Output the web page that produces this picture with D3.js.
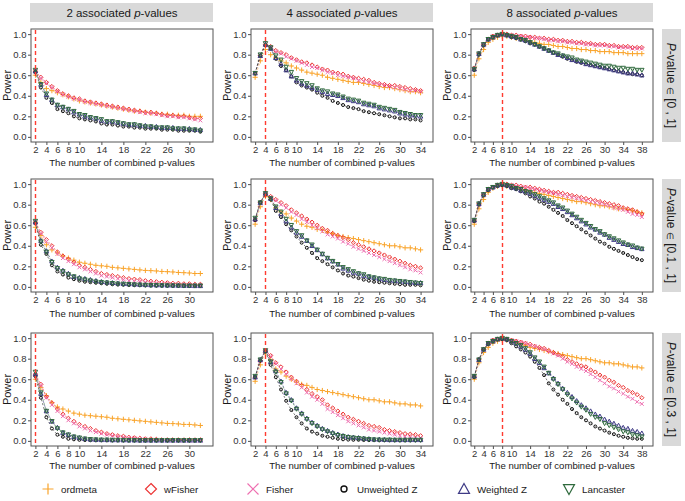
<!DOCTYPE html>
<html>
<head>
<meta charset="utf-8">
<script src="https://cdn.jsdelivr.net/npm/d3@7"></script>
<style>
  body { margin: 0; background: #fff; }
  text { font-family: "Liberation Sans", Arial, sans-serif; }
</style>
</head>
<body>
<div id="chart"></div>
<script>
// columns: number of associated p-values, rows: p-value range
const assoc = [2, 4, 8];
const ranges = ["[0 , 1]", "[0.1 , 1]", "[0.3 , 1]"];
const xMax = [32, 34, 38];
const xTicks = [
    [2, 4, 6, 8, 10, 14, 18, 22, 26, 30],
    [2, 4, 6, 8, 10, 14, 18, 22, 26, 30, 34],
    [2, 4, 6, 8, 10, 14, 18, 22, 26, 30, 34, 38]
];
const yTicks = [0, 0.2, 0.4, 0.6, 0.8, 1.0];
const methods = ["ordmeta", "wFisher", "Fisher", "Unweighted Z", "Weighted Z", "Lancaster"];

// power values, one array per panel (row by row), starting at x = 2
const ordmeta = [
    [.60,.53,.47,.45,.43,.41,.39,.37,.35,.34,.33,.32,.31,.30,.29,.28,.27,.26,.25,.25,.24,.23,.23,.22,.22,.21,.21,.21,.20,.20,.20],
    [.58,.74,.85,.80,.77,.74,.72,.69,.67,.65,.63,.62,.61,.60,.58,.57,.56,.55,.54,.53,.53,.52,.51,.50,.49,.48,.48,.47,.46,.45,.44,.44,.43],
    [.60,.76,.85,.92,.95,.97,.98,.98,.97,.96,.95,.94,.93,.92,.91,.90,.90,.89,.88,.88,.87,.86,.86,.85,.85,.84,.84,.83,.83,.83,.82,.82,.82,.81,.81,.81,.81],
    [.58,.50,.41,.36,.33,.30,.28,.26,.24,.23,.22,.21,.205,.20,.19,.185,.18,.175,.17,.165,.16,.158,.155,.15,.148,.145,.14,.138,.135,.13,.13],
    [.61,.78,.88,.85,.77,.73,.71,.67,.64,.61,.59,.58,.56,.55,.53,.52,.50,.49,.48,.47,.46,.45,.44,.43,.42,.41,.40,.40,.39,.38,.38,.37,.36],
    [.61,.76,.85,.92,.96,.98,.98,.98,.97,.96,.95,.94,.93,.92,.91,.90,.89,.88,.87,.86,.85,.84,.83,.83,.82,.81,.80,.79,.79,.78,.77,.76,.76,.75,.74,.73,.72],
    [.60,.52,.44,.37,.33,.31,.29,.27,.26,.25,.245,.24,.235,.23,.22,.215,.21,.205,.20,.195,.19,.185,.18,.175,.17,.168,.165,.16,.16,.155,.15],
    [.58,.74,.86,.79,.70,.67,.63,.60,.57,.55,.54,.52,.50,.49,.48,.47,.46,.45,.44,.43,.42,.41,.40,.40,.39,.38,.38,.37,.36,.36,.35,.35,.34],
    [.60,.76,.86,.91,.95,.97,.98,.98,.97,.96,.94,.93,.91,.90,.89,.88,.87,.86,.85,.84,.83,.82,.81,.80,.80,.79,.78,.77,.76,.76,.75,.75,.74,.73,.72,.72,.71]
];
const wFisher = [
    [.64,.58,.53,.49,.45,.42,.40,.38,.37,.35,.34,.33,.32,.31,.30,.29,.28,.27,.26,.25,.24,.24,.23,.22,.21,.21,.20,.20,.19,.18,.18],
    [.62,.79,.90,.88,.84,.82,.80,.77,.75,.73,.72,.70,.68,.66,.65,.63,.62,.61,.59,.58,.57,.56,.55,.53,.52,.51,.50,.50,.49,.48,.47,.46,.45],
    [.67,.81,.90,.95,.98,.99,1.00,1.00,.99,.99,.98,.98,.97,.97,.96,.96,.95,.95,.94,.94,.93,.93,.92,.92,.91,.91,.90,.90,.90,.89,.89,.88,.88,.88,.87,.87,.87],
    [.63,.53,.46,.40,.34,.30,.27,.24,.21,.19,.17,.15,.13,.12,.11,.10,.09,.08,.075,.07,.06,.055,.05,.045,.04,.035,.035,.03,.03,.025,.025],
    [.66,.82,.91,.88,.85,.82,.79,.75,.72,.69,.66,.63,.60,.57,.55,.52,.50,.48,.46,.43,.41,.39,.37,.35,.33,.31,.29,.27,.25,.23,.21,.20,.185],
    [.65,.81,.90,.95,.97,.99,1.00,1.00,.99,.99,.98,.97,.97,.96,.95,.94,.93,.92,.92,.91,.90,.89,.88,.87,.86,.85,.84,.83,.82,.81,.80,.79,.77,.76,.75,.73,.71],
    [.65,.55,.43,.37,.31,.26,.22,.19,.16,.14,.12,.10,.085,.07,.06,.05,.045,.035,.03,.025,.02,.02,.015,.01,.01,.01,.01,.01,.01,.01,.01],
    [.62,.78,.88,.83,.76,.72,.67,.62,.58,.54,.50,.46,.43,.40,.35,.32,.29,.26,.23,.21,.19,.17,.15,.14,.13,.11,.10,.09,.08,.07,.065,.06,.05],
    [.63,.79,.89,.95,.98,.99,1.00,.99,.98,.97,.96,.95,.94,.92,.91,.90,.88,.86,.84,.82,.79,.77,.75,.73,.72,.69,.67,.64,.62,.59,.57,.54,.52,.49,.47,.45,.42]
];
const fisher = [
    [.64,.57,.52,.48,.44,.41,.39,.37,.36,.34,.33,.32,.31,.30,.29,.28,.27,.26,.25,.24,.23,.23,.22,.21,.20,.20,.19,.19,.18,.17,.16],
    [.62,.79,.90,.87,.83,.81,.78,.76,.74,.72,.70,.68,.67,.65,.63,.62,.60,.59,.58,.57,.55,.54,.53,.52,.51,.50,.49,.48,.47,.46,.45,.45,.44],
    [.66,.81,.90,.95,.98,.99,1.00,.99,.99,.98,.98,.97,.97,.96,.96,.95,.94,.94,.93,.93,.92,.92,.91,.91,.90,.90,.89,.89,.89,.88,.88,.87,.87,.87,.86,.86,.86],
    [.63,.52,.44,.38,.32,.28,.25,.22,.19,.17,.15,.13,.11,.10,.09,.08,.07,.06,.055,.05,.045,.04,.035,.03,.03,.025,.02,.02,.02,.015,.015],
    [.65,.81,.91,.87,.84,.80,.77,.73,.70,.66,.63,.60,.57,.54,.51,.49,.47,.44,.42,.39,.37,.35,.33,.31,.29,.27,.25,.23,.21,.19,.17,.16,.14],
    [.64,.80,.90,.95,.97,.99,1.00,.99,.99,.98,.97,.97,.96,.95,.94,.93,.92,.91,.90,.89,.88,.87,.86,.85,.84,.83,.82,.81,.80,.79,.77,.76,.75,.73,.71,.70,.68],
    [.64,.54,.42,.35,.29,.24,.20,.17,.14,.12,.10,.085,.07,.06,.05,.04,.035,.03,.025,.02,.015,.01,.01,.01,.005,.005,.005,.005,.005,.005,.005],
    [.62,.78,.88,.82,.75,.70,.65,.60,.56,.52,.47,.43,.40,.36,.31,.28,.25,.22,.19,.17,.15,.13,.11,.10,.09,.08,.07,.06,.05,.04,.035,.03,.025],
    [.63,.79,.89,.95,.98,.99,1.00,.99,.98,.97,.96,.95,.93,.92,.90,.89,.87,.85,.83,.80,.77,.75,.72,.70,.68,.65,.62,.59,.56,.53,.51,.48,.46,.43,.41,.38,.36]
];
const unweightedZ = [
    [.63,.48,.38,.33,.27,.25,.23,.20,.18,.17,.16,.15,.13,.12,.12,.11,.10,.10,.09,.09,.08,.08,.08,.07,.07,.07,.06,.06,.06,.06,.05],
    [.62,.79,.89,.86,.76,.69,.65,.59,.53,.50,.48,.46,.43,.40,.38,.35,.33,.31,.29,.28,.27,.25,.24,.23,.22,.21,.20,.19,.18,.18,.17,.17,.16],
    [.65,.80,.89,.95,.97,.99,1.00,.99,.97,.96,.95,.93,.91,.90,.88,.86,.84,.82,.80,.78,.76,.75,.73,.72,.71,.70,.69,.68,.67,.66,.65,.64,.63,.62,.61,.61,.60],
    [.62,.41,.32,.21,.15,.12,.09,.075,.06,.05,.045,.04,.035,.03,.025,.022,.02,.018,.016,.015,.014,.013,.012,.011,.01,.01,.01,.01,.01,.01,.01],
    [.65,.82,.90,.85,.74,.68,.61,.55,.49,.43,.38,.33,.28,.25,.22,.19,.16,.13,.11,.10,.085,.07,.06,.05,.045,.04,.035,.03,.025,.02,.02,.02,.015],
    [.64,.80,.89,.94,.97,.98,.99,.98,.96,.95,.93,.91,.88,.86,.83,.81,.78,.75,.72,.69,.65,.62,.59,.56,.53,.50,.47,.44,.42,.39,.37,.35,.33,.31,.29,.27,.26],
    [.63,.42,.23,.12,.06,.04,.02,.015,.01,.008,.006,.005,.005,.005,.005,.005,.005,.005,.005,.005,.005,.005,.005,.005,.005,.005,.005,.005,.005,.005,.005],
    [.62,.78,.87,.74,.62,.50,.39,.30,.23,.17,.12,.09,.07,.05,.04,.03,.02,.015,.012,.01,.01,.008,.007,.006,.005,.005,.005,.005,.005,.005,.005,.005,.005],
    [.62,.79,.89,.94,.97,.99,.99,.98,.95,.92,.89,.86,.82,.77,.71,.64,.56,.50,.45,.40,.36,.31,.27,.23,.20,.17,.14,.12,.10,.08,.065,.05,.04,.03,.025,.02,.02]
];
const weightedZ = [
    [.64,.51,.41,.36,.31,.29,.27,.24,.22,.20,.19,.18,.16,.15,.15,.14,.13,.12,.12,.11,.11,.10,.10,.09,.09,.09,.08,.08,.08,.07,.07],
    [.62,.79,.90,.86,.77,.71,.65,.59,.55,.52,.50,.48,.46,.44,.42,.41,.40,.38,.36,.35,.34,.32,.31,.30,.28,.27,.26,.25,.23,.22,.21,.21,.20],
    [.66,.81,.90,.95,.97,.99,1.00,.99,.98,.97,.95,.94,.92,.90,.88,.86,.84,.82,.80,.79,.77,.75,.74,.73,.71,.70,.69,.68,.67,.66,.65,.64,.63,.62,.62,.61,.60],
    [.63,.45,.35,.25,.19,.16,.13,.10,.09,.08,.07,.06,.05,.045,.04,.035,.03,.028,.025,.022,.02,.018,.017,.016,.015,.014,.013,.012,.011,.01,.01],
    [.66,.82,.91,.86,.77,.71,.64,.58,.53,.49,.45,.40,.36,.32,.28,.25,.22,.18,.16,.14,.13,.11,.10,.09,.08,.07,.065,.06,.055,.05,.045,.04,.04],
    [.65,.81,.90,.95,.97,.99,1.00,.99,.97,.96,.94,.93,.91,.89,.87,.85,.83,.81,.78,.76,.73,.70,.67,.64,.61,.58,.56,.53,.51,.48,.46,.44,.42,.41,.39,.38,.37],
    [.65,.46,.29,.19,.13,.08,.06,.04,.03,.02,.015,.012,.01,.01,.008,.008,.007,.006,.006,.005,.005,.005,.005,.005,.005,.005,.005,.005,.005,.005,.005],
    [.62,.79,.88,.77,.68,.58,.47,.40,.32,.27,.22,.18,.15,.12,.10,.08,.065,.05,.04,.035,.03,.025,.02,.015,.015,.012,.01,.01,.01,.01,.01,.01,.01],
    [.63,.79,.89,.95,.97,.99,1.00,.99,.97,.95,.92,.89,.85,.80,.76,.71,.66,.61,.56,.51,.47,.43,.39,.35,.32,.29,.26,.24,.21,.19,.17,.15,.13,.12,.10,.09,.075]
];
const lancaster = [
    [.65,.51,.42,.36,.31,.29,.27,.25,.22,.21,.19,.18,.17,.15,.15,.14,.13,.12,.12,.11,.10,.10,.09,.09,.09,.08,.08,.08,.07,.07,.06],
    [.62,.80,.91,.87,.79,.75,.68,.63,.57,.54,.52,.50,.47,.45,.44,.42,.41,.39,.37,.36,.35,.33,.32,.31,.29,.28,.27,.26,.24,.23,.22,.21,.21],
    [.66,.81,.90,.95,.97,.99,1.00,.99,.98,.97,.95,.94,.92,.90,.88,.86,.84,.82,.81,.79,.78,.77,.75,.74,.73,.72,.71,.70,.69,.69,.68,.67,.67,.66,.66,.65,.65],
    [.64,.44,.34,.24,.18,.15,.12,.10,.08,.07,.06,.05,.045,.04,.035,.03,.028,.025,.022,.02,.018,.016,.015,.014,.013,.012,.011,.01,.01,.01,.01],
    [.67,.82,.91,.86,.78,.73,.66,.60,.54,.50,.45,.41,.36,.32,.28,.25,.22,.19,.17,.15,.13,.12,.10,.09,.08,.075,.065,.06,.055,.05,.045,.04,.035],
    [.65,.81,.90,.95,.97,.99,1.00,.99,.98,.96,.95,.93,.92,.90,.88,.86,.84,.82,.79,.77,.74,.71,.68,.65,.62,.59,.56,.54,.51,.49,.47,.45,.43,.41,.40,.38,.37],
    [.67,.47,.29,.19,.12,.08,.06,.04,.03,.02,.015,.012,.01,.01,.008,.008,.007,.006,.006,.005,.005,.005,.005,.005,.005,.005,.005,.005,.005,.005,.005],
    [.63,.79,.88,.77,.67,.57,.46,.39,.31,.26,.21,.17,.14,.11,.09,.07,.055,.045,.035,.03,.025,.02,.015,.012,.01,.01,.01,.008,.008,.008,.008,.008,.008],
    [.63,.79,.89,.95,.97,.99,1.00,.99,.97,.95,.93,.90,.86,.81,.77,.72,.66,.60,.55,.50,.45,.41,.37,.33,.30,.26,.23,.21,.17,.15,.13,.11,.09,.08,.06,.05,.04]
];
const seriesData = [ordmeta, wFisher, fisher, unweightedZ, weightedZ, lancaster];

const colors = ["#F9A42B", "#EC3434", "#EE6FB0", "#111111", "#3E3A85", "#2F6A3D"];
const shapes = ["plus", "diamond", "cross", "circle", "triangle", "triangleDown"];
const refLineColor = "#FF3B30";

// layout
const W = 685, H = 501;
const colX = [31, 251, 471];
const rowY = [29, 179, 333];
const pw = 182, ph = 113;
const xDomains = [[1.2, 34.3], [1.2, 36.4], [1.3, 40.4]];
const titleY = [166, 317, 469];

const svg = d3.select("#chart").append("svg")
    .attr("width", W)
    .attr("height", H);

// marker path for a given shape and size (half width)
function markerPath(shape, s) {
    switch (shape) {
        case "plus":
            return `M${-s},0H${s}M0,${-s}V${s}`;
        case "cross":
            return `M${-s},${-s}L${s},${s}M${-s},${s}L${s},${-s}`;
        case "diamond":
            return `M0,${-s}L${s},0L0,${s}L${-s},0Z`;
        case "circle":
            return `M${s},0A${s},${s} 0 1,1 ${-s},0A${s},${s} 0 1,1 ${s},0Z`;
        case "triangle":
            return `M0,${-s}L${s},${s * 0.8}L${-s},${s * 0.8}Z`;
        case "triangleDown":
            return `M0,${s}L${s},${-s * 0.8}L${-s},${-s * 0.8}Z`;
    }
}
const markerSize = [2.6, 2.1, 1.9, 1.5, 2.2, 2.2];

// top strips
assoc.forEach(function (a, c) {
    const g = svg.append("g");
    g.append("rect")
        .attr("x", colX[c] - 1).attr("y", 3)
        .attr("width", pw + 1).attr("height", 19)
        .attr("fill", "#d9d9d9");
    const t = g.append("text")
        .attr("x", colX[c] + pw / 2).attr("y", 16.5)
        .attr("text-anchor", "middle")
        .attr("font-size", 11.5)
        .attr("fill", "#1a1a1a");
    t.append("tspan").text(a + " associated ");
    t.append("tspan").attr("font-style", "italic").text("p");
    t.append("tspan").text("-values");
});

ranges.forEach(function (rng, r) {
    // right strip
    const sg = svg.append("g");
    sg.append("rect")
        .attr("x", 662).attr("y", rowY[r])
        .attr("width", 19).attr("height", ph)
        .attr("fill", "#d9d9d9");
    const st = sg.append("text")
        .attr("transform", "translate(667," + (rowY[r] + ph / 2) + ") rotate(90)")
        .attr("text-anchor", "middle")
        .attr("font-size", 12)
        .attr("fill", "#1a1a1a");
    st.append("tspan").attr("font-style", "italic").text("P");
    st.append("tspan").text("-value ");
    st.append("tspan").attr("font-size", 9).text("\u2208");
    st.append("tspan").text(" " + rng);

    assoc.forEach(function (a, c) {
        const idx = r * 3 + c;
        const x = d3.scaleLinear().domain(xDomains[c]).range([0, pw]);
        const y = d3.scaleLinear().domain([-0.05, 1.05]).range([ph, 0]);
        const xs = d3.range(2, xMax[c] + 1);

        const g = svg.append("g")
            .attr("transform", "translate(" + colX[c] + "," + rowY[r] + ")");

        // axes
        const xAxis = d3.axisBottom(x).tickValues(xTicks[c]).tickSize(3).tickPadding(1.5).tickFormat(d3.format("d"));
        const yAxis = d3.axisLeft(y).tickValues(yTicks).tickSize(3).tickPadding(1.5).tickFormat(d3.format(".1f"));

        const xg = g.append("g").attr("transform", "translate(0," + ph + ")").call(xAxis);
        const yg = g.append("g").call(yAxis);
        [xg, yg].forEach(function (ax) {
            ax.select(".domain").remove();
            ax.selectAll(".tick line").attr("stroke", "#4d4d4d");
            ax.selectAll(".tick text")
                .attr("font-size", 9.5)
                .attr("font-family", "'Liberation Sans', Arial, sans-serif")
                .attr("fill", "#333");
        });

        // y axis title
        g.append("text")
            .attr("transform", "translate(-20," + (ph / 2) + ") rotate(-90)")
            .attr("text-anchor", "middle")
            .attr("font-size", 11)
            .attr("fill", "#1a1a1a")
            .text("Power");

        // x axis title
        svg.append("text")
            .attr("x", colX[c] + pw / 2)
            .attr("y", titleY[r])
            .attr("text-anchor", "middle")
            .attr("font-size", 9.6)
            .attr("fill", "#1a1a1a")
            .text("The number of combined p-values");

        // series
        seriesData.forEach(function (series, m) {
            const vals = series[idx];
            const pts = xs.map((v, i) => [v, vals[i]]);
            g.append("path")
                .datum(pts)
                .attr("fill", "none")
                .attr("stroke", colors[m])
                .attr("stroke-width", 0.7)
                .attr("stroke-dasharray", "2,2")
                .attr("opacity", 0.8)
                .attr("d", d3.line().x(d => x(d[0])).y(d => y(d[1])));

            g.selectAll(".pt" + m)
                .data(pts)
                .enter().append("path")
                .attr("class", "pt" + m)
                .attr("transform", d => "translate(" + x(d[0]) + "," + y(d[1]) + ")")
                .attr("d", markerPath(shapes[m], markerSize[m]))
                .attr("fill", "none")
                .attr("stroke", colors[m])
                .attr("stroke-width", 1);
        });

        // reference line at the number of associated p-values (drawn on top)
        const xv = Math.round(x(a)) + 0.5;
        g.append("path")
            .attr("d", "M" + xv + ",1V" + ph)
            .attr("fill", "none")
            .style("stroke", refLineColor)
            .style("stroke-width", "1.4px")
            .style("stroke-dasharray", "4,3");

        // panel frame
        g.append("rect")
            .attr("x", 0).attr("y", 0)
            .attr("width", pw).attr("height", ph)
            .attr("fill", "none")
            .attr("stroke", "#555")
            .attr("stroke-width", 1);
    });
});

// legend
const legendX = [48, 151, 253, 344, 464, 569];
const legend = svg.append("g").attr("transform", "translate(0,489)");
methods.forEach(function (name, m) {
    legend.append("path")
        .attr("transform", "translate(" + legendX[m] + ",0)")
        .attr("d", markerPath(shapes[m], m === 3 ? 3 : 5.5))
        .attr("fill", "none")
        .attr("stroke", colors[m])
        .attr("stroke-width", m === 3 ? 1.4 : 1.2);
    legend.append("text")
        .attr("x", legendX[m] + 13)
        .attr("y", 3.5)
        .attr("font-size", 9.8)
        .attr("fill", "#1a1a1a")
        .text(name);
});
</script>
</body>
</html>
